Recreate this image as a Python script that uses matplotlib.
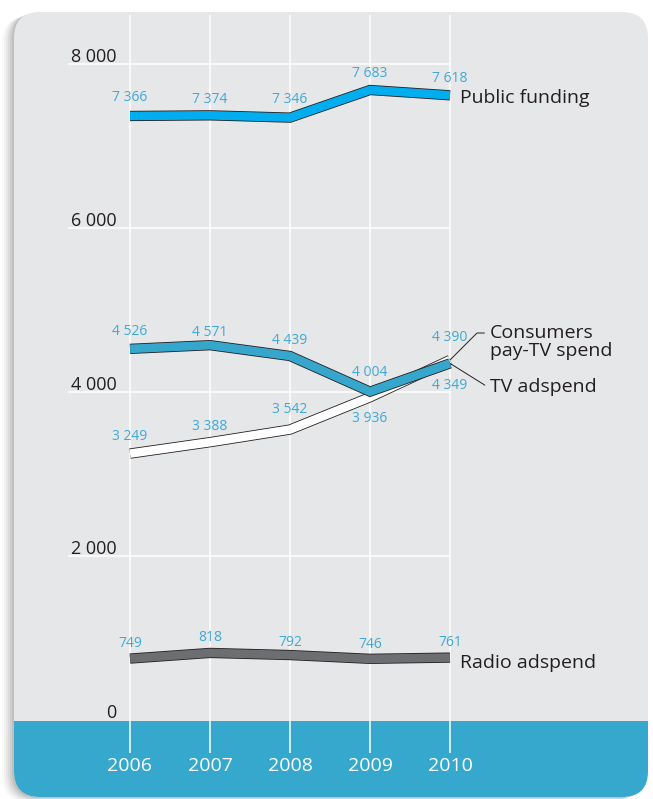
import matplotlib
matplotlib.use('Agg')
import matplotlib.pyplot as plt
import matplotlib.patheffects as pe
from matplotlib.patches import FancyBboxPatch, Rectangle

plt.rcParams['font.family'] = ['Open Sans', 'DejaVu Sans']

# Data
years = [2006, 2007, 2008, 2009, 2010]
public_funding = [7366, 7374, 7346, 7683, 7618]
tv_adspend = [4526, 4571, 4439, 4004, 4349]
pay_tv_spend = [3249, 3388, 3542, 3936, 4390]
radio_adspend = [749, 818, 792, 746, 761]
y_ticks = [0, 2000, 4000, 6000, 8000]

# label offsets above (+) / below (-) each point, in pixels
public_off = [18, 16, 18, 16, 17]
tv_off = [17, 13, 16, 19, -22]
pay_off = [17, 16, 20, -21, 23]
radio_off = [15, 15, 13, 14, 15]

W, H = 653, 799
PT = 0.72  # points per pixel at dpi 100

card_grey = '#e6e7e8'
band_blue = '#36a8ce'
label_blue = '#3fa9d5'
dark = '#231f20'


def fmt(v):
    return f'{v:,}'.replace(',', ' ')


fig = plt.figure(figsize=(W / 100, H / 100), dpi=100)
fig.patch.set_facecolor('white')

# background card in pixel coordinates
bg = fig.add_axes([0, 0, 1, 1])
bg.set_xlim(0, W)
bg.set_ylim(H, 0)
bg.axis('off')

for off, a in [(12, 0.025), (10, 0.03), (8, 0.04), (6, 0.05), (4, 0.06), (2, 0.07)]:
    bg.add_patch(FancyBboxPatch((14 - off, 12 + off * 0.4), 634, 785,
                                boxstyle='round,pad=0,rounding_size=26',
                                fc='black', ec='none', alpha=a))

card = FancyBboxPatch((14, 12), 634, 785, boxstyle='round,pad=0,rounding_size=26',
                      fc=card_grey, ec='none')
bg.add_patch(card)
band = Rectangle((0, 721), W, 90, fc=band_blue, ec='none')
bg.add_patch(band)
band.set_clip_path(card)

# data axes: 2006..2010 -> x 130..450 px, 0..8000 -> y 720..64 px
ax = fig.add_axes([130 / W, (H - 720) / H, 320 / W, 656 / H])
ax.set_xlim(2006, 2010)
ax.set_ylim(0, 8000)
ax.axis('off')
ax.patch.set_alpha(0)

ax.vlines(years, -400, 8600, colors='white', lw=1.1, clip_on=False, zorder=1)
ax.hlines(y_ticks[1:], 2005.22, 2010, colors='white', lw=1.1, clip_on=False, zorder=1)

for v in y_ticks:
    ax.annotate(fmt(v), xy=(2005.83, v), xytext=(0, 2.5 * PT), textcoords='offset points',
                ha='right', va='baseline', fontsize=13, color=dark, annotation_clip=False)

for yr in years:
    ax.annotate(str(yr), xy=(yr, 0), xytext=(0, -46 * PT), textcoords='offset points',
                ha='center', va='center', fontsize=14, color='white', annotation_clip=False)

outline = [pe.Stroke(linewidth=7.4, foreground=dark), pe.Normal()]


def ribbon(vals, color, offs, z):
    ax.plot(years, vals, color=color, lw=6.2, solid_capstyle='butt',
            solid_joinstyle='miter', zorder=z, path_effects=outline, clip_on=False)
    for x, v, o in zip(years, vals, offs):
        ax.annotate(fmt(v), xy=(x, v), xytext=(0, o * PT), textcoords='offset points',
                    ha='center', va='center', fontsize=10, color=label_blue, zorder=6,
                    annotation_clip=False)


ribbon(public_funding, '#00aeef', public_off, 3)
ribbon(pay_tv_spend, 'white', pay_off, 3)
ribbon(tv_adspend, '#36a6cc', tv_off, 4)
ribbon(radio_adspend, '#6d6e71', radio_off, 3)

ax.annotate('Public funding', xy=(2010, public_funding[-1]), xytext=(10 * PT, -3 * PT),
            textcoords='offset points', ha='left', va='center', fontsize=14, color=dark)
ax.annotate('Radio adspend', xy=(2010, radio_adspend[-1]), xytext=(10 * PT, -5 * PT),
            textcoords='offset points', ha='left', va='center', fontsize=14, color=dark)

ax.annotate('Consumers\npay-TV spend', xy=(2010, pay_tv_spend[-1]),
            xytext=(40 * PT, 18 * PT), textcoords='offset points', ha='left', va='center',
            fontsize=14, color=dark, linespacing=1.0,
            arrowprops=dict(arrowstyle='-', color=dark, lw=0.7, relpos=(0, 0.75),
                            shrinkA=2, shrinkB=0,
                            connectionstyle='angle,angleA=0,angleB=45,rad=0'))
ax.annotate('TV adspend', xy=(2010, tv_adspend[-1]),
            xytext=(40 * PT, -24 * PT), textcoords='offset points', ha='left', va='center',
            fontsize=14, color=dark,
            arrowprops=dict(arrowstyle='-', color=dark, lw=0.7, relpos=(0, 0.5),
                            shrinkA=2, shrinkB=0,
                            connectionstyle='angle,angleA=0,angleB=-32,rad=0'))

fig.savefig('out.png', dpi=100)
